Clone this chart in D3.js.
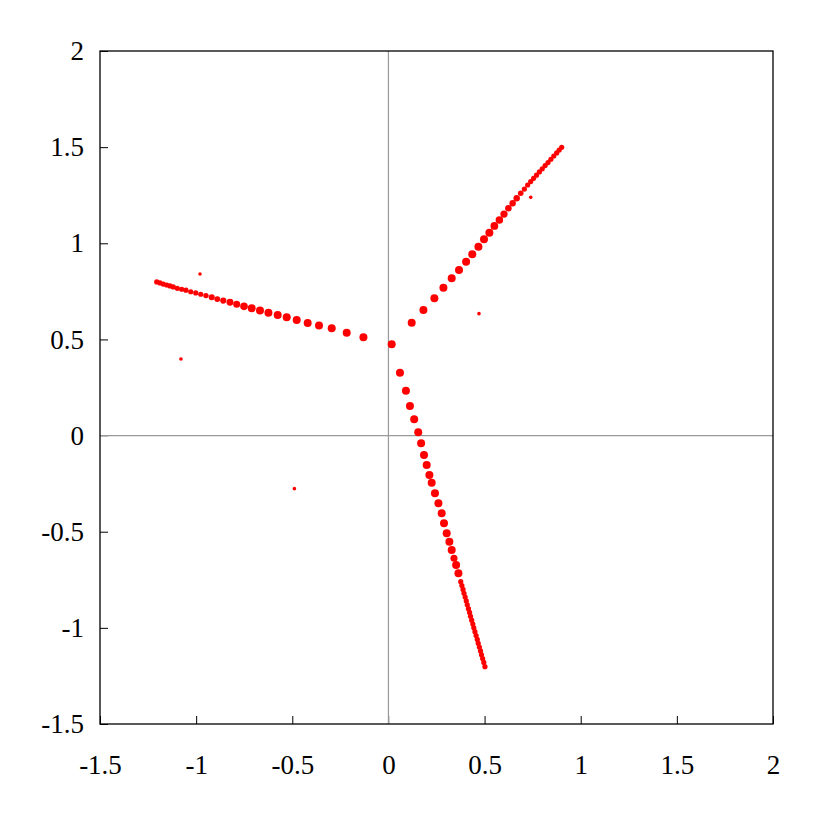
<!DOCTYPE html>
<html>
<meta charset="utf-8">
<title>Three arms scatter</title>
<style>
body { margin: 0; background: #fff; }
.axis path { display: none; }
</style>
<svg></svg>
<script src="https://d3js.org/d3.v7.min.js"></script>
<script>

// tick labels
var xTicks = [-1.5, -1, -0.5, 0, 0.5, 1, 1.5, 2];
var yTicks = [-1.5, -1, -0.5, 0, 0.5, 1, 1.5, 2];

// upper-left arm (x, y)
var armLeft = [
  [-0.130, 0.511], [-0.217, 0.535], [-0.295, 0.558], [-0.361, 0.572], [-0.420, 0.586],
  [-0.477, 0.601], [-0.529, 0.615], [-0.576, 0.627], [-0.624, 0.639], [-0.668, 0.650],
  [-0.711, 0.662], [-0.751, 0.672], [-0.789, 0.683], [-0.824, 0.693], [-0.859, 0.702],
  [-0.890, 0.710], [-0.919, 0.719], [-0.949, 0.728], [-0.976, 0.735], [-1.002, 0.742],
  [-1.028, 0.748], [-1.053, 0.756], [-1.075, 0.761], [-1.098, 0.766], [-1.119, 0.773],
  [-1.136, 0.778], [-1.153, 0.783], [-1.171, 0.788], [-1.188, 0.794], [-1.205, 0.799]
];

// upper-right arm
var armRight = [
  [0.017, 0.475], [0.121, 0.587], [0.182, 0.653], [0.239, 0.714], [0.286, 0.769],
  [0.329, 0.818], [0.367, 0.861], [0.404, 0.904], [0.436, 0.943], [0.468, 0.982],
  [0.497, 1.021], [0.525, 1.055], [0.551, 1.090], [0.577, 1.121], [0.601, 1.152],
  [0.624, 1.182], [0.646, 1.208], [0.667, 1.234], [0.688, 1.260], [0.707, 1.282],
  [0.724, 1.303], [0.740, 1.321], [0.755, 1.338], [0.770, 1.354], [0.785, 1.371],
  [0.800, 1.387], [0.815, 1.404], [0.830, 1.420], [0.845, 1.437], [0.860, 1.454],
  [0.875, 1.470], [0.888, 1.485], [0.901, 1.499]
];

// lower arm
var armDown = [
  [0.060, 0.327], [0.091, 0.233], [0.112, 0.154], [0.134, 0.085], [0.155, 0.017],
  [0.170, -0.040], [0.185, -0.101], [0.199, -0.153], [0.213, -0.205], [0.225, -0.245],
  [0.242, -0.300], [0.260, -0.352], [0.277, -0.404], [0.289, -0.456], [0.303, -0.508],
  [0.317, -0.552], [0.329, -0.595], [0.341, -0.638], [0.352, -0.673], [0.364, -0.716],
  [0.376, -0.760], [0.382, -0.780], [0.388, -0.800], [0.393, -0.820], [0.399, -0.840],
  [0.405, -0.860], [0.410, -0.880], [0.416, -0.900], [0.422, -0.920], [0.427, -0.940],
  [0.433, -0.960], [0.439, -0.980], [0.444, -1.000], [0.450, -1.020], [0.456, -1.040],
  [0.462, -1.060], [0.467, -1.080], [0.473, -1.100], [0.479, -1.120], [0.484, -1.140],
  [0.490, -1.160], [0.496, -1.180], [0.502, -1.202]
];

// isolated points
var strays = [
  [-0.980, 0.840], [-1.079, 0.398], [-0.489, -0.276], [0.471, 0.634], [0.740, 1.239]
];

var svg = d3.select("svg").attr("width", 817).attr("height", 817);

var margin = {top: 51, right: 44, bottom: 93, left: 100},
    width = 817 - margin.left - margin.right,
    height = 817 - margin.top - margin.bottom;

var x = d3.scaleLinear().domain([-1.5, 2]).range([0, width]),
    y = d3.scaleLinear().domain([-1.5, 2]).range([height, 0]);

var g = svg.append("g")
    .attr("transform", "translate(" + margin.left + "," + margin.top + ")");

// zero lines
g.append("line")
    .attr("x1", x(0)).attr("x2", x(0)).attr("y1", 0).attr("y2", height)
    .attr("stroke", "#999").attr("stroke-width", 1.2);
g.append("line")
    .attr("x1", 0).attr("x2", width).attr("y1", y(0)).attr("y2", y(0))
    .attr("stroke", "#999").attr("stroke-width", 1.2);

// axes, ticks pointing in, hyphen minus like the original
g.append("g")
    .attr("class", "axis axis--x")
    .attr("transform", "translate(0," + height + ")")
    .call(d3.axisBottom(x).tickValues(xTicks).tickSizeInner(-8).tickPadding(31)
      .tickFormat(function(d) { return String(d); }));

g.append("g")
    .attr("class", "axis axis--y")
    .call(d3.axisLeft(y).tickValues(yTicks).tickSizeInner(-8).tickPadding(16)
      .tickFormat(function(d) { return String(d); }));

g.selectAll(".axis")
    .attr("font-family", "'Liberation Serif', 'Times New Roman', serif")
    .attr("font-size", 27);
g.selectAll(".tick text").attr("fill", "#000");
g.selectAll(".tick line").attr("stroke", "#000");
g.selectAll(".tick").filter(function(d) { return d === 0; }).select("line").attr("stroke", "#999");

// frame
g.append("rect")
    .attr("x", 0).attr("y", 0).attr("width", width).attr("height", height)
    .attr("fill", "none").attr("stroke", "#000").attr("stroke-width", 1.3);

// dot size follows the gap to the next dot, so blobs just touch
function radii(arm) {
  return arm.map(function(d, i) {
    var n = arm[i + 1] || arm[i - 1];
    var dist = Math.hypot(x(n[0]) - x(d[0]), y(n[1]) - y(d[1]));
    return {p: d, r: Math.max(2.6, Math.min(4, dist * 0.5))};
  });
}

var arms = radii(armLeft).concat(radii(armRight), radii(armDown));

g.selectAll("circle.pt")
    .data(arms)
  .enter().append("circle")
    .attr("class", "pt")
    .attr("cx", function(d) { return x(d.p[0]); })
    .attr("cy", function(d) { return y(d.p[1]); })
    .attr("r", function(d) { return d.r; })
    .attr("fill", "#ff0000");

g.selectAll("circle.stray")
    .data(strays)
  .enter().append("circle")
    .attr("class", "stray")
    .attr("cx", function(d) { return x(d[0]); })
    .attr("cy", function(d) { return y(d[1]); })
    .attr("r", 1.8)
    .attr("fill", "#ff0000");

</script>
</html>
